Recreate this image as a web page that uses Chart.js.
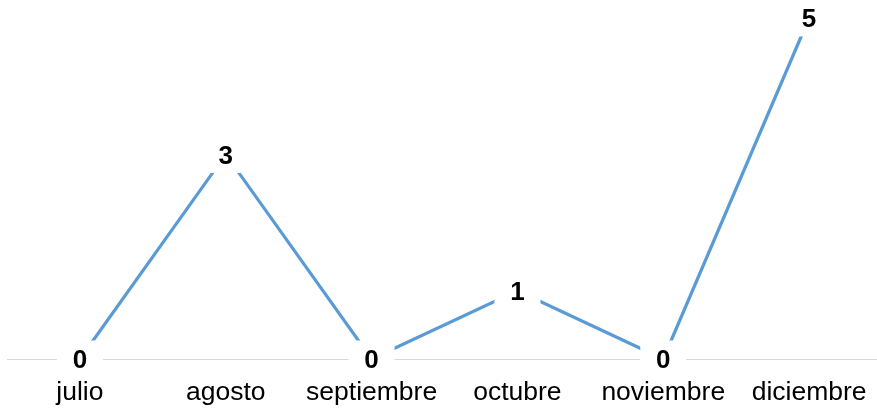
<!DOCTYPE html>
<html>
<head>
<meta charset="utf-8">
<script src="https://cdn.jsdelivr.net/npm/chart.js@4"></script>
<style>
  html, body { margin: 0; padding: 0; background: #fff; overflow: hidden; }
  #wrap { width: 884px; height: 413px; }
</style>
</head>
<body>
<div id="wrap"><canvas id="chart" width="884" height="413"></canvas></div>
<script>
var months = ['julio', 'agosto', 'septiembre', 'octubre', 'noviembre', 'diciembre'];
var counts = [0, 3, 0, 1, 0, 5];

// white boxes with bold values on top of the line
var valueLabels = {
	id: 'valueLabels',
	afterDatasetsDraw: function (chart) {
		var ctx = chart.ctx;
		var meta = chart.getDatasetMeta(0);
		ctx.save();
		ctx.font = 'bold 26px "Liberation Sans", Arial, sans-serif';
		ctx.textAlign = 'center';
		ctx.textBaseline = 'middle';
		for (var i = 0; i < meta.data.length; i++) {
			var pt = meta.data[i];
			ctx.fillStyle = '#ffffff';
			ctx.fillRect(pt.x - 23, pt.y - 18.5, 46, 37);
			ctx.fillStyle = '#000000';
			ctx.fillText(String(counts[i]), pt.x, pt.y + 2);
		}
		ctx.restore();
	}
};

var ctx = document.getElementById('chart').getContext('2d');
window.MonthChart = new Chart(ctx, {
	type: 'line',
	data: {
		labels: months,
		datasets: [{
			data: counts,
			borderColor: '#5B9BD5',
			borderWidth: 3.2,
			pointRadius: 0,
			tension: 0,
			fill: false,
			clip: false
		}]
	},
	options: {
		responsive: false,
		animation: false,
		layout: { padding: { left: 7, right: 2, top: 18, bottom: 0 } },
		plugins: {
			legend: { display: false },
			title: { display: false },
			tooltip: { enabled: false }
		},
		scales: {
			x: {
				offset: true,
				grid: { display: false },
				border: { display: true, color: '#d9d9d9', width: 1 },
				ticks: {
					color: '#000000',
					padding: 10,
					maxRotation: 0,
					autoSkip: false,
					font: { family: '"Liberation Sans", Arial, sans-serif', size: 26.5 }
				},
				afterFit: function (scale) { scale.height = 54; }
			},
			y: {
				display: false,
				min: 0,
				max: 5
			}
		}
	},
	plugins: [valueLabels]
});
</script>
</body>
</html>
